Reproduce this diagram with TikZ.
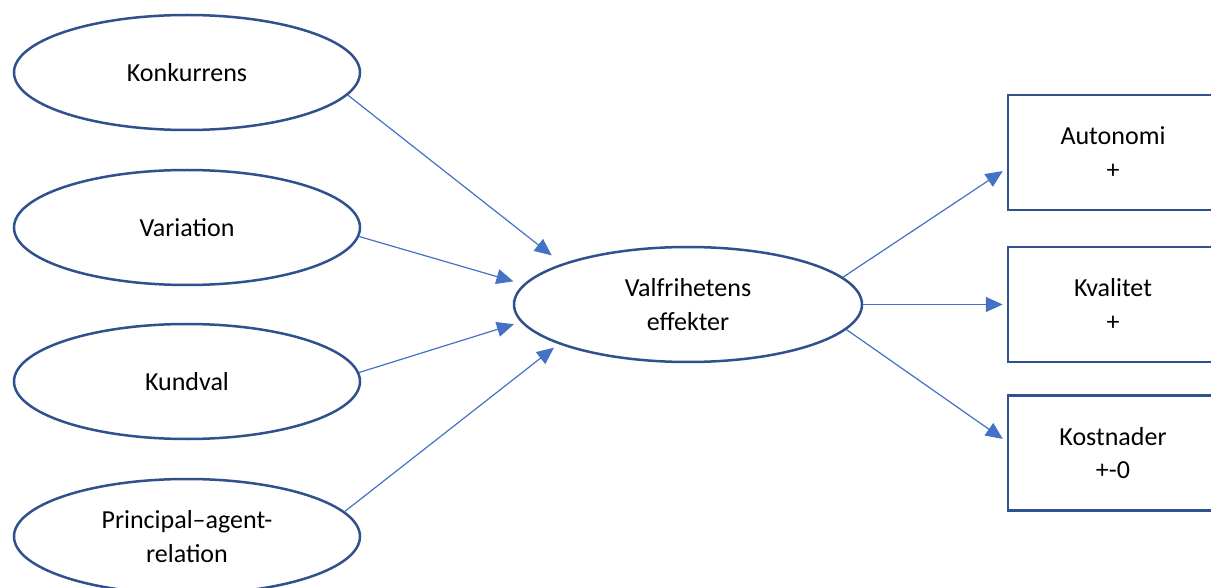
\documentclass[tikz,border=0pt]{standalone}
\usepackage{fontspec}
\setmainfont{Carlito}
\usetikzlibrary{shapes.geometric,arrows.meta}
\definecolor{edgeblue}{HTML}{2F528F}
\definecolor{arrowblue}{HTML}{4472C4}
\begin{document}
\begin{tikzpicture}[x=1pt,y=-1pt,
  lbl/.style={font=\fontsize{26}{33.3}\selectfont,align=center},
  oval/.style={ellipse,draw=edgeblue,line width=2.5pt,minimum width=346pt,minimum height=115pt,inner sep=0pt,lbl},
  outbox/.style={rectangle,draw=edgeblue,line width=2.5pt,minimum width=210pt,minimum height=115pt,inner sep=0pt,lbl},
  conn/.style={draw=arrowblue,line width=1.2pt,-{Triangle[length=17pt,width=15pt]}}]
\clip (0,0) rectangle (1211,588);
\fill[white] (0,0) rectangle (1211,588);
% left ovals
\node[oval] (k) at (187,72.5) {Konkurrens};
\node[oval] (var) at (187,227.5) {Variation};
\node[oval] (kund) at (187,381.5) {Kundval};
\node[oval] (p) at (187,536.5) {Principal–agent-\\relation};
% centre
\node[oval,minimum width=348pt] (v) at (688,304.5) {Valfrihetens\\effekter};
% right boxes
\node[outbox] (a) at (1113,152.5) {Autonomi\\+};
\node[outbox] (q) at (1113,304.5) {Kvalitet\\+};
\node[outbox] (c) at (1113,453) {Kostnader\\+-0};
% connectors
\draw[conn,shorten >=13.3pt] (k.-8.4) -- (v.162.3);
\draw[conn,shorten >=10.4pt] (var.-3.5) -- (v.173.4);
\draw[conn,shorten >=7.2pt] (kund.3.8) -- (v.-174.6);
\draw[conn,shorten >=5.8pt] (p.9.2) -- (v.-163.35);
\draw[conn,shorten >=4.8pt] (v.10.4) -- ([yshift=-15.9pt]a.west);
\draw[conn,shorten >=4pt] (v.east) -- (q.west);
\draw[conn,shorten >=4.8pt] (v.-9.8) -- ([yshift=11.3pt]c.west);
\end{tikzpicture}
\end{document}
